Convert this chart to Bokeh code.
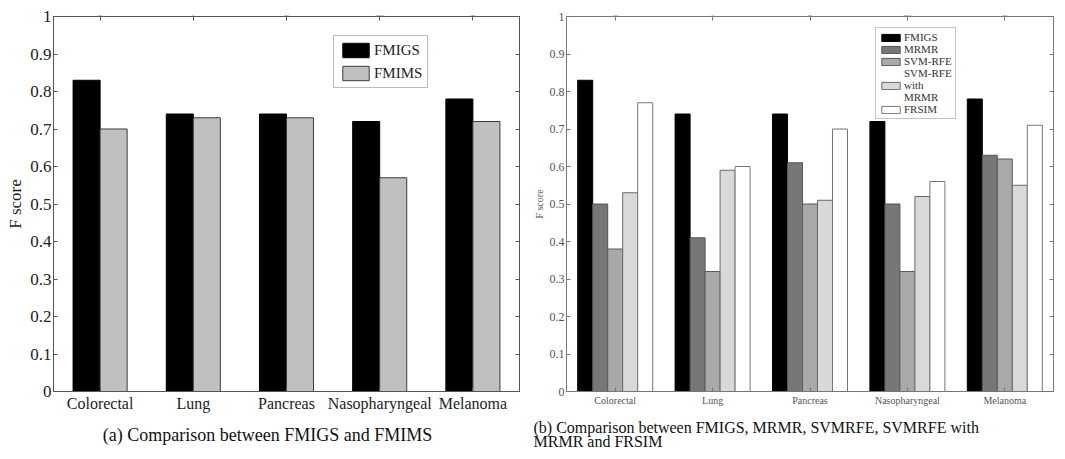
from bokeh.plotting import figure
from bokeh.models import (ColumnDataSource, FactorRange, Range1d, LinearAxis, CategoricalAxis,
                          FixedTicker, CustomJSTickFormatter, Legend, LegendItem)
from bokeh.transform import dodge
from bokeh.layouts import column, row
from bokeh.embed import file_html
from bokeh.resources import INLINE

# ---------------- data ----------------
categories = ["Colorectal", "Lung", "Pancreas", "Nasopharyngeal", "Melanoma"]
fmigs = [0.83, 0.74, 0.74, 0.72, 0.78]
fmims = [0.70, 0.73, 0.73, 0.57, 0.72]
mrmr = [0.50, 0.41, 0.61, 0.50, 0.63]
svm_rfe = [0.38, 0.32, 0.50, 0.32, 0.62]
svm_rfe_mrmr = [0.53, 0.59, 0.51, 0.52, 0.55]
frsim = [0.77, 0.60, 0.70, 0.56, 0.71]
y_ticks = [0, 0.1, 0.2, 0.3, 0.4, 0.5, 0.6, 0.7, 0.8, 0.9, 1]
legend_a = ["FMIGS", "FMIMS"]
legend_b = ["FMIGS", "MRMR", "SVM-RFE", "SVM-RFE\nwith\nMRMR", "FRSIM"]
caption_a = "(a) Comparison between FMIGS and FMIMS"
caption_b = ["(b) Comparison between FMIGS, MRMR, SVMRFE, SVMRFE with", "MRMR and FRSIM"]

SERIF = "Liberation Serif"
fmt = CustomJSTickFormatter(code="return String(Math.round(tick*10)/10)")
blank = CustomJSTickFormatter(code="return ''")


def style_axes(p, tick_size, tick_color, cat_size, label_size, axis_color, lstand, astand):
    p.xgrid.grid_line_color = None
    p.ygrid.grid_line_color = None
    p.outline_line_color = axis_color
    p.outline_line_width = 1
    for ax in p.xaxis:
        ax.major_tick_in = 4
        ax.major_tick_out = 0
        ax.axis_line_color = axis_color
        ax.major_tick_line_color = axis_color
        ax.major_label_text_font = SERIF
        ax.major_label_text_font_size = cat_size
        ax.major_label_text_color = tick_color
        ax.major_label_standoff = 3
    for ax in p.yaxis:
        ax.ticker = FixedTicker(ticks=y_ticks)
        ax.formatter = fmt
        ax.major_tick_in = 4
        ax.major_tick_out = 0
        ax.minor_tick_line_color = None
        ax.axis_line_color = axis_color
        ax.major_tick_line_color = axis_color
        ax.major_label_text_font = SERIF
        ax.major_label_text_font_size = tick_size
        ax.major_label_text_color = tick_color
        ax.major_label_standoff = lstand
        ax.axis_label = "F score"
        ax.axis_label_text_font = SERIF
        ax.axis_label_text_font_style = "normal"
        ax.axis_label_text_font_size = label_size
        ax.axis_label_text_color = tick_color
        ax.axis_label_standoff = astand
    top = CategoricalAxis(major_label_overrides={c: "" for c in categories},
                          major_tick_in=4, major_tick_out=0, major_label_standoff=0,
                          axis_line_color=axis_color, major_tick_line_color=axis_color,
                          major_label_text_font_size="1px")
    p.add_layout(top, "above")
    right = LinearAxis(ticker=FixedTicker(ticks=y_ticks), formatter=blank,
                       major_tick_in=4, major_tick_out=0, minor_tick_line_color=None,
                       major_label_standoff=0, axis_line_color=axis_color,
                       major_tick_line_color=axis_color, major_label_text_font_size="1px")
    p.add_layout(right, "right")


PLOT_H = 418

# ---------------- panel (a) ----------------
src_a = ColumnDataSource(dict(cat=categories, fmigs=fmigs, fmims=fmims))
p1 = figure(width=523, height=PLOT_H, x_range=FactorRange(*categories), y_range=Range1d(0, 1),
            output_backend="svg", toolbar_location=None,
            min_border_left=53, min_border_right=4, min_border_top=14, min_border_bottom=25)
r1 = p1.vbar(x=dodge("cat", -0.145, range=p1.x_range), top="fmigs", width=0.29, source=src_a,
             fill_color="#000000", line_color="#000000")
r2 = p1.vbar(x=dodge("cat", 0.145, range=p1.x_range), top="fmims", width=0.29, source=src_a,
             fill_color="#c0c0c0", line_color="#3c3c3c")
style_axes(p1, "17px", "#222222", "16px", "17px", "#555555", 2, 2)
leg1 = Legend(items=[LegendItem(label=legend_a[0], renderers=[r1]),
                     LegendItem(label=legend_a[1], renderers=[r2])],
              location=(280, 303), orientation="vertical",
              border_line_color="#777777", border_line_width=1,
              padding=5, spacing=5, margin=0,
              glyph_width=33, glyph_height=18, label_height=18, label_standoff=2,
              label_text_font=SERIF, label_text_font_size="15px", label_text_color="#222222")
p1.add_layout(leg1)

# ---------------- panel (b) ----------------
src_b = ColumnDataSource(dict(cat=categories, fmigs=fmigs, mrmr=mrmr, svm=svm_rfe,
                              svmm=svm_rfe_mrmr, frsim=frsim))
p2 = figure(width=534, height=PLOT_H, x_range=FactorRange(*categories), y_range=Range1d(0, 1),
            output_backend="svg", toolbar_location=None,
            min_border_left=43, min_border_right=4, min_border_top=16, min_border_bottom=27)
cols = ["fmigs", "mrmr", "svm", "svmm", "frsim"]
fills = ["#000000", "#777777", "#a9a9a9", "#d9d9d9", "#ffffff"]
lines = ["#000000", "#555555", "#5a5a5a", "#6a6a6a", "#777777"]
offs = [-0.308, -0.154, 0.0, 0.154, 0.308]
rends = []
for c, f, l, o in zip(cols, fills, lines, offs):
    rends.append(p2.vbar(x=dodge("cat", o, range=p2.x_range), top=c, width=0.154, source=src_b,
                         fill_color=f, line_color=l))
style_axes(p2, "12px", "#555555", "10px", "10px", "#777777", 2, 2)
leg2 = Legend(items=[LegendItem(label=lab, renderers=[r]) for lab, r in zip(legend_b, rends)],
              location=(309, 272), orientation="vertical",
              border_line_color="#888888", border_line_width=1,
              padding=3, spacing=0, margin=0,
              glyph_width=23, glyph_height=9, label_height=12, label_standoff=2,
              label_text_font=SERIF, label_text_font_size="11px", label_text_color="#333333")
p2.add_layout(leg2)

# ---------------- captions ----------------
CAP_H = 451 - PLOT_H
p3 = figure(width=1057, height=CAP_H, x_range=Range1d(0, 1057), y_range=Range1d(PLOT_H + CAP_H, PLOT_H),
            output_backend="svg", toolbar_location=None,
            min_border=0, min_border_left=0, min_border_right=0, min_border_top=0, min_border_bottom=0)
p3.axis.visible = False
p3.xgrid.grid_line_color = None
p3.ygrid.grid_line_color = None
p3.outline_line_color = None
p3.text(x=[267], y=[434], text=[caption_a], text_align="center", text_baseline="middle",
        text_font=SERIF, text_font_size="18px", text_color="#111111")
p3.text(x=[533, 533], y=[427, 441], text=caption_b, text_align="left", text_baseline="middle",
        text_font=SERIF, text_font_size="16px", text_color="#111111")

layout = column(row(p1, p2, spacing=0), p3, spacing=0)
open("out.html", "w").write(file_html(layout, INLINE))
